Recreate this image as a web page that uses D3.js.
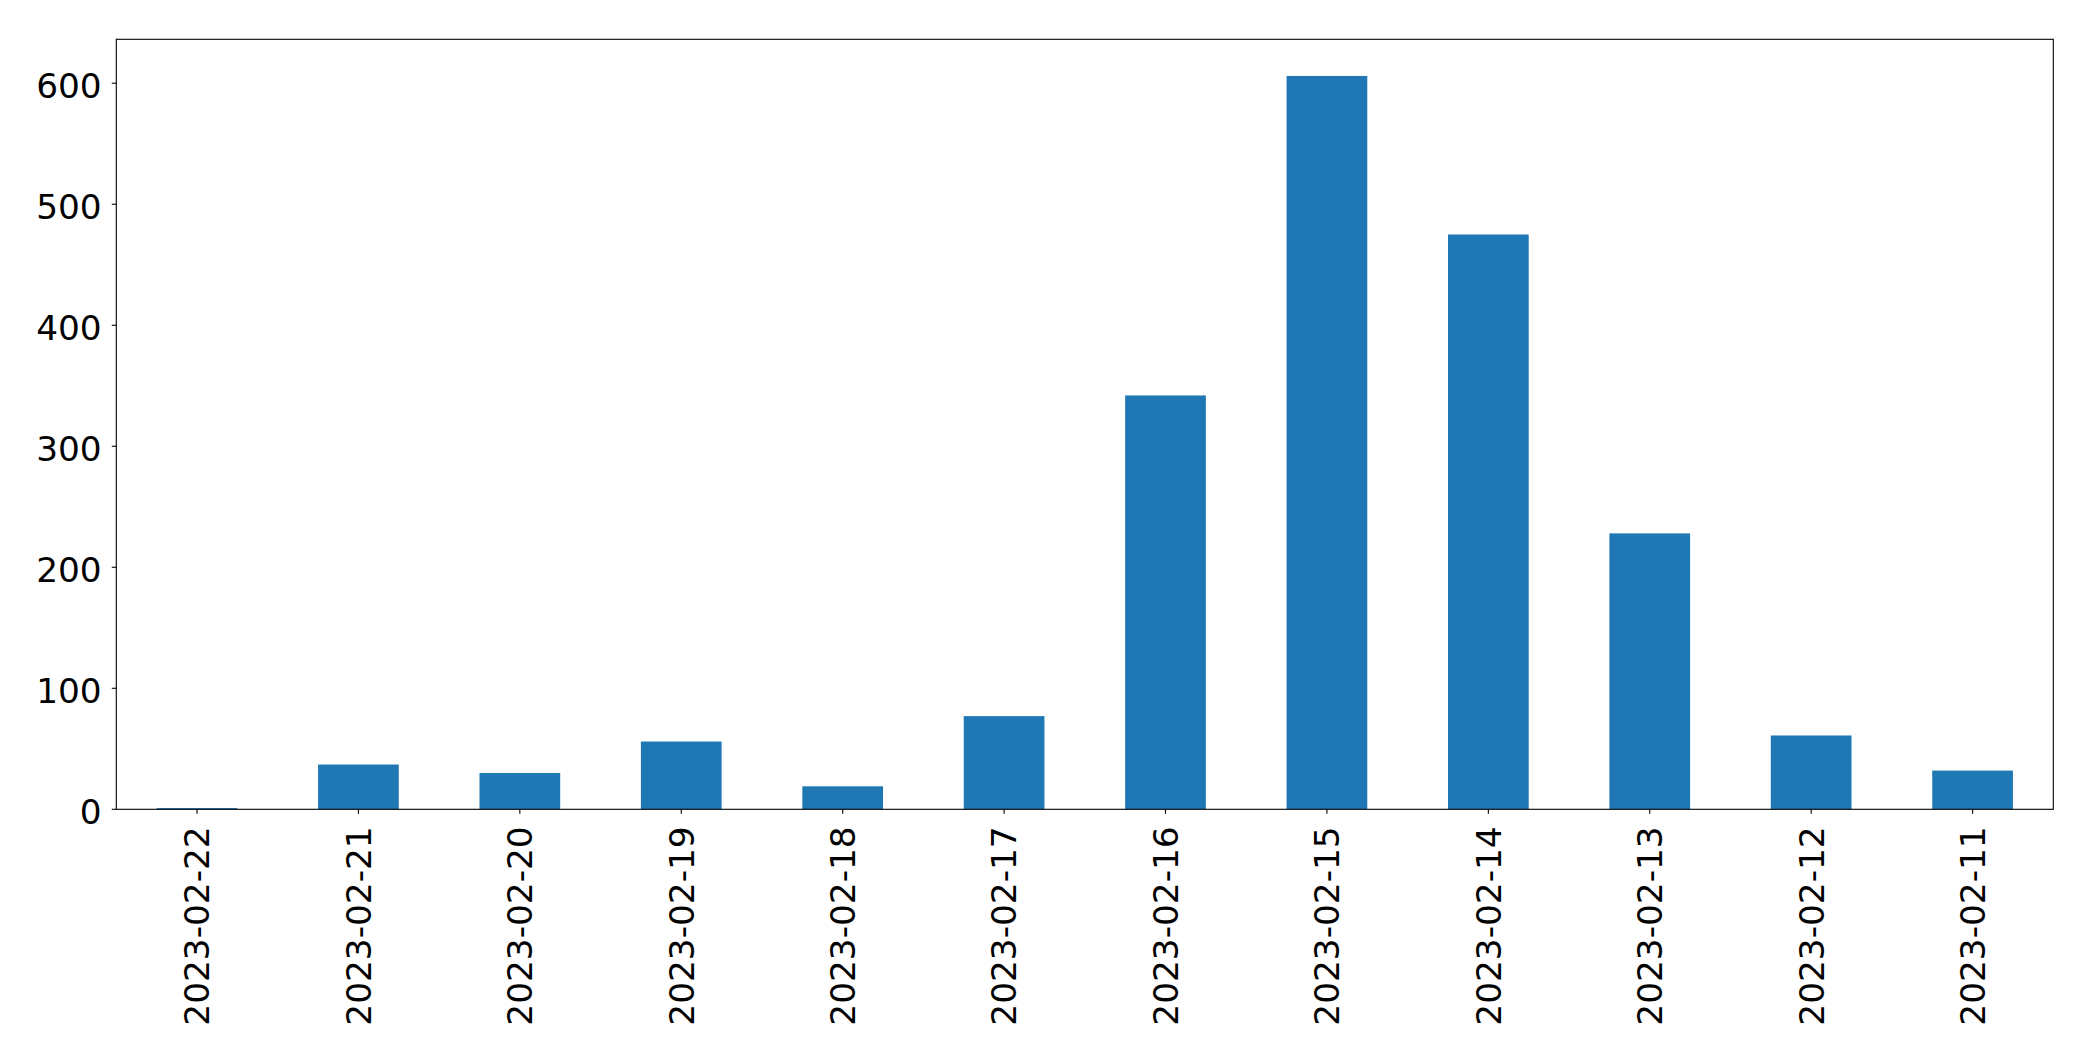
<!DOCTYPE html>
<html>
<head>
<meta charset="utf-8">
<script src="https://cdn.jsdelivr.net/npm/d3@7"></script>
<style>
  html, body { margin: 0; padding: 0; background: #ffffff; }
  svg { display: block; }
  text { font-family: "DejaVu Sans", sans-serif; fill: #000; }
</style>
</head>
<body>
<svg id="chart" width="2093" height="1061"></svg>
<script>
const categories = ["2023-02-22","2023-02-21","2023-02-20","2023-02-19","2023-02-18","2023-02-17","2023-02-16","2023-02-15","2023-02-14","2023-02-13","2023-02-12","2023-02-11"];
const values = [1, 37, 30, 56, 19, 77, 342, 606, 475, 228, 61, 32];
const yTicks = [0, 100, 200, 300, 400, 500, 600];

(function () {
const plotLeft = 116.3, plotRight = 2053.3, plotTop = 39.3, plotBottom = 809.3;
const fontSize = 34.3;
const tickLen = 4.5;

const svg = d3.select("#chart");

const x = d3.scaleBand()
  .domain(categories)
  .range([plotLeft, plotRight])
  .paddingInner(0.5)
  .paddingOuter(0.25);

const y = d3.scaleLinear()
  .domain([0, d3.max(values) * 1.05])
  .range([plotBottom, plotTop]);

// bars
svg.append("g")
  .selectAll("rect")
  .data(categories.map((c, i) => ({c, v: values[i]})))
  .join("rect")
  .attr("x", d => x(d.c))
  .attr("width", x.bandwidth())
  .attr("y", d => y(d.v))
  .attr("height", d => y(0) - y(d.v))
  .attr("fill", "#1f77b4");

// frame
svg.append("rect")
  .attr("x", plotLeft).attr("y", plotTop)
  .attr("width", plotRight - plotLeft).attr("height", plotBottom - plotTop)
  .attr("fill", "none").attr("stroke", "#000").attr("stroke-width", 1.1);

// y axis ticks
const yg = svg.append("g");
yg.selectAll("line")
  .data(yTicks).join("line")
  .attr("x1", plotLeft - tickLen).attr("x2", plotLeft)
  .attr("y1", d => y(d)).attr("y2", d => y(d))
  .attr("stroke", "#000").attr("stroke-width", 1.1);
yg.selectAll("text")
  .data(yTicks).join("text")
  .attr("x", plotLeft - tickLen - 10.2)
  .attr("y", d => y(d))
  .attr("dy", "0.44em")
  .attr("text-anchor", "end")
  .attr("font-size", fontSize)
  .text(d => d);

// x axis ticks
const xg = svg.append("g");
xg.selectAll("line")
  .data(categories).join("line")
  .attr("x1", d => x(d) + x.bandwidth() / 2).attr("x2", d => x(d) + x.bandwidth() / 2)
  .attr("y1", plotBottom).attr("y2", plotBottom + tickLen)
  .attr("stroke", "#000").attr("stroke-width", 1.1);
xg.selectAll("text")
  .data(categories).join("text")
  .attr("transform", d => `translate(${x(d) + x.bandwidth() / 2},${plotBottom + 17}) rotate(-90)`)
  .attr("dy", "0.36em")
  .attr("text-anchor", "end")
  .attr("font-size", fontSize)
  .text(d => d);
})();
</script>
</body>
</html>
